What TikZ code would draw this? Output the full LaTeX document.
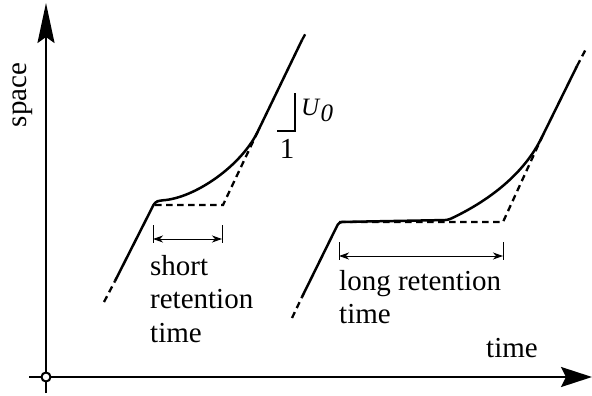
\documentclass[tikz,border=0pt]{standalone}
\usepackage{fontspec}
\setmainfont{Liberation Serif}
\usetikzlibrary{arrows.meta,positioning}

\begin{document}
\begin{tikzpicture}[
  x=1pt,y=-1pt,
  axis/.style={line width=2.4pt},
  curve/.style={line width=2.5pt,line join=round},
  guide/.style={line width=2.3pt,dash pattern=on 6.5pt off 4.5pt},
  dimline/.style={line width=1pt,{Stealth[length=10pt,width=7pt,inset=3pt]}-{Stealth[length=10pt,width=7pt,inset=3pt]}},
  dimtick/.style={line width=1pt},
  lbl/.style={inner sep=0pt,font=\fontsize{29}{33.5}\selectfont,align=left}
]
\useasboundingbox (0,0) rectangle (592,396);

% axes
\coordinate (o) at (46,377);
\coordinate (ybot) at (46,393);
\coordinate (ytop) at (46,3);
\coordinate (xleft) at (29,377);
\coordinate (xright) at (592,377);
\draw[axis,-{Stealth[length=40pt,width=17pt,inset=6pt]}] (ybot) -- (ytop);
\draw[axis,-{Stealth[length=31pt,width=20pt,inset=5pt]}] (xleft) -- (xright);
\draw[line width=2pt,fill=white] (o) circle (4.5);
\node[lbl,rotate=90] (space) at (23,95) {space};
\node[lbl,anchor=base] (timeax) at (512,357) {time};

% short retention
\coordinate (a1) at (104,302);
\coordinate (b1) at (115,281);
\coordinate (k1) at (155,202);
\coordinate (c1) at (155,205);
\coordinate (d1) at (223,205);
\coordinate (m1) at (259,129);
\coordinate (e1) at (302,40);
\coordinate (f1) at (307,31);
\draw[guide] (a1) -- (b1);
\draw[curve,rounded corners=3pt] (b1) -- (k1) -- (160,200.5) .. controls (195,198) and (241,166) .. (m1) -- (e1);
\draw[guide] (c1) -- (d1) -- (m1);
\draw[guide] (e1) -- (f1);

% long retention
\coordinate (a2) at (292,318);
\coordinate (b2) at (302,297);
\coordinate (k2) at (339,222);
\coordinate (h2) at (448,220);
\coordinate (d2) at (503,222);
\coordinate (m2) at (542,137);
\coordinate (e2) at (577,66);
\coordinate (f2) at (587,47);
\draw[guide] (a2) -- (b2);
\draw[curve,rounded corners=3pt] (b2) -- (k2) -- (h2) .. controls (480,205) and (520,180) .. (m2) -- (e2);
\draw[guide] (k2) -- (d2) -- (m2);
\draw[guide] (e2) -- (f2);

% slope
\coordinate (s1) at (277,131);
\coordinate (s2) at (295,131);
\coordinate (s3) at (295,93);
\draw[line width=2.2pt] (s1) -- (s2) -- (s3);
\node[inner sep=0pt,font=\fontsize{25}{30}\selectfont,anchor=base west] (uo) at (301,115) {\textit{U}\raisebox{-6pt}{\textit{0}}};
\node[lbl,anchor=base] (one) at (287,158) {1};

% retention times
\coordinate (t1a) at (153,225);
\coordinate (t1b) at (153,243);
\coordinate (t1c) at (222,225);
\coordinate (t1d) at (222,243);
\draw[dimtick] (t1a) -- (t1b);
\draw[dimtick] (t1c) -- (t1d);
\draw[dimline] (153,239) -- (222,239);
\node[lbl,anchor=north west] (short) at (150,255) {short\\retention\\time};

\coordinate (t2a) at (339,242);
\coordinate (t2b) at (339,260);
\coordinate (t2c) at (503,242);
\coordinate (t2d) at (503,260);
\draw[dimtick] (t2a) -- (t2b);
\draw[dimtick] (t2c) -- (t2d);
\draw[dimline] (339,256) -- (503,256);
\node[lbl,anchor=north west] (long) at (339,270) {long retention\\time};
\end{tikzpicture}
\end{document}
